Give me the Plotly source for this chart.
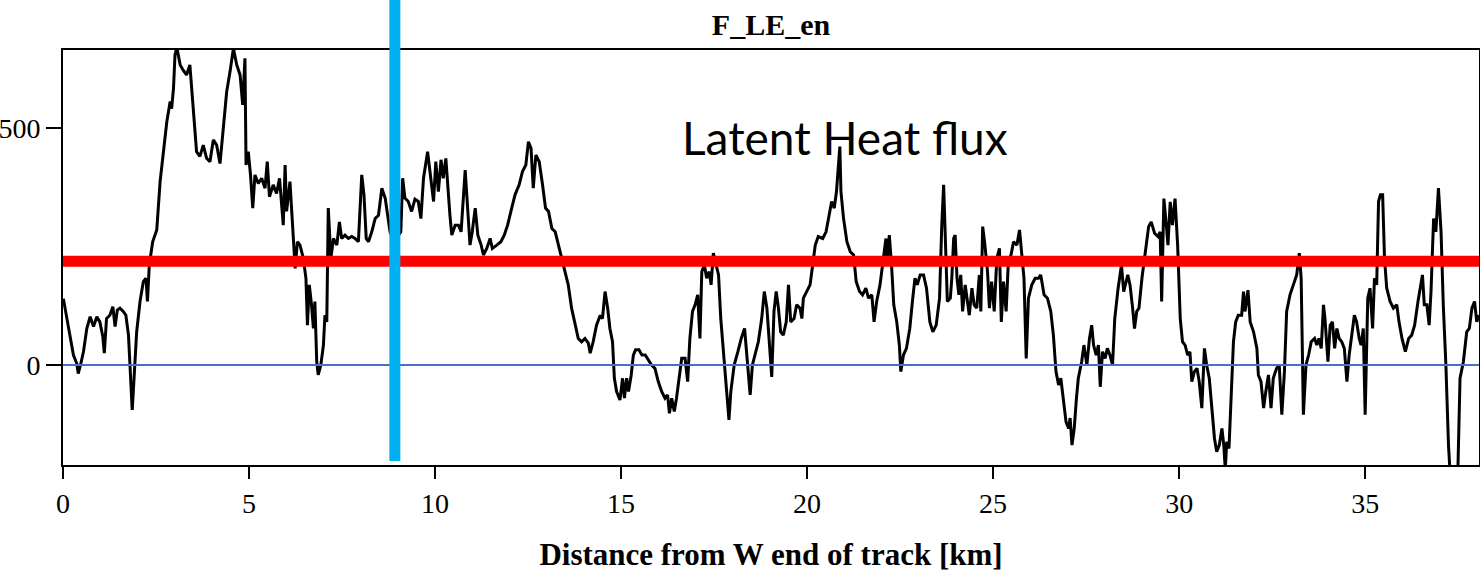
import plotly.graph_objects as go

# Distance along track [km]
distance_km = [
    0.01, 0.10, 0.19, 0.28, 0.37, 0.41, 0.47, 0.55, 0.64, 0.73, 0.82, 0.91, 0.99, 1.07, 1.11, 1.17,
    1.26, 1.34, 1.40, 1.46, 1.53, 1.62, 1.69, 1.76, 1.80, 1.86, 1.91, 1.98, 2.07, 2.16, 2.23, 2.27,
    2.32, 2.41, 2.52, 2.61, 2.70, 2.79, 2.88, 2.92, 2.97, 3.01, 3.06, 3.15, 3.23, 3.32, 3.41, 3.50,
    3.59, 3.68, 3.77, 3.86, 3.95, 4.04, 4.13, 4.22, 4.31, 4.40, 4.49, 4.58, 4.67, 4.76, 4.83, 4.89,
    4.92, 4.98, 5.04, 5.10, 5.16, 5.25, 5.34, 5.43, 5.49, 5.55, 5.65, 5.74, 5.82, 5.88, 5.92, 5.97,
    6.01, 6.10, 6.19, 6.24, 6.30, 6.37, 6.46, 6.53, 6.57, 6.62, 6.68, 6.73, 6.77, 6.82, 6.86, 6.93,
    7.00, 7.04, 7.09, 7.13, 7.20, 7.27, 7.36, 7.43, 7.49, 7.58, 7.67, 7.76, 7.85, 7.94, 8.03, 8.09,
    8.15, 8.21, 8.30, 8.39, 8.48, 8.57, 8.66, 8.75, 8.79, 8.90, 9.08, 9.13, 9.19, 9.28, 9.37,
    9.46, 9.55, 9.62, 9.69, 9.80, 9.87, 9.96, 10.02, 10.09, 10.16, 10.22, 10.29, 10.34, 10.40, 10.45,
    10.54, 10.63, 10.70, 10.81, 10.88, 10.94, 11.00, 11.08, 11.15, 11.24, 11.30, 11.39, 11.48, 11.54,
    11.66, 11.77, 11.86, 11.95, 12.06, 12.15, 12.26, 12.35, 12.44, 12.51, 12.58, 12.64, 12.71, 12.80,
    12.89, 12.97, 13.05, 13.14, 13.23, 13.32, 13.41, 13.49, 13.58, 13.67, 13.76, 13.85, 13.94, 14.03,
    14.12, 14.17, 14.25, 14.34, 14.44, 14.50, 14.57, 14.64, 14.70, 14.77, 14.82, 14.88, 14.97, 15.04,
    15.09, 15.15, 15.20, 15.27, 15.33, 15.39, 15.48, 15.56, 15.65, 15.73, 15.82, 15.91, 16.00, 16.09,
    16.18, 16.25, 16.30, 16.36, 16.43, 16.49, 16.56, 16.63, 16.72, 16.79, 16.85, 16.92, 16.99, 17.06,
    17.12, 17.17, 17.24, 17.30, 17.37, 17.42, 17.48, 17.55, 17.62, 17.68, 17.78, 17.84, 17.90, 17.95,
    18.04, 18.14, 18.23, 18.32, 18.38, 18.47, 18.53, 18.60, 18.69, 18.78, 18.85, 18.92, 18.98,
    19.05, 19.11, 19.17, 19.23, 19.29, 19.36, 19.44, 19.50, 19.56, 19.65, 19.72, 19.81, 19.86, 19.90,
    19.99, 20.08, 20.15, 20.22, 20.30, 20.42, 20.51, 20.60, 20.66, 20.73, 20.79, 20.83, 20.88, 20.91,
    20.98, 21.07, 21.16, 21.25, 21.32, 21.41, 21.49, 21.58, 21.65, 21.74, 21.80, 21.87, 21.96, 22.05,
    22.12, 22.15, 22.21, 22.27, 22.33, 22.41, 22.48, 22.52, 22.59, 22.67, 22.76, 22.84, 22.90, 22.96,
    23.04, 23.13, 23.21, 23.30, 23.38, 23.47, 23.56, 23.62, 23.67, 23.71, 23.77, 23.85, 23.89, 23.94,
    23.98, 24.03, 24.08, 24.13, 24.18, 24.25, 24.31, 24.36, 24.43, 24.49, 24.56, 24.63, 24.67, 24.72,
    24.78, 24.85, 24.90, 24.96, 25.03, 25.10, 25.17, 25.22, 25.28, 25.35, 25.41, 25.48, 25.55, 25.64,
    25.71, 25.77, 25.83, 25.89, 25.95, 26.04, 26.13, 26.22, 26.28, 26.37, 26.46, 26.55, 26.62, 26.69,
    26.76, 26.82, 26.89, 26.96, 27.03, 27.07, 27.12, 27.18, 27.24, 27.29, 27.38, 27.44, 27.52, 27.59,
    27.65, 27.70, 27.77, 27.83, 27.88, 27.94, 28.01, 28.07, 28.14, 28.21, 28.27, 28.36, 28.45, 28.51,
    28.62, 28.68, 28.75, 28.80, 28.86, 28.92, 29.00, 29.09, 29.18, 29.25, 29.34, 29.43, 29.49, 29.53,
    29.59, 29.64, 29.70, 29.76, 29.82, 29.89, 29.96, 30.03, 30.09, 30.16, 30.23, 30.29, 30.34, 30.41,
    30.48, 30.54, 30.61, 30.68, 30.74, 30.81, 30.88, 30.95, 31.01, 31.08, 31.15, 31.20, 31.24, 31.28,
    31.34, 31.42, 31.46, 31.52, 31.59, 31.68, 31.73, 31.77, 31.85, 31.91, 32.00, 32.09, 32.13, 32.20,
    32.27, 32.33, 32.40, 32.47, 32.53, 32.62, 32.69, 32.76, 32.83, 32.89, 32.98, 33.07, 33.16, 33.23,
    33.28, 33.34, 33.41, 33.48, 33.55, 33.64, 33.70, 33.76, 33.82, 33.88, 33.92, 34.00, 34.06, 34.12,
    34.18, 34.24, 34.30, 34.37, 34.44, 34.51, 34.57, 34.64, 34.71, 34.77, 34.84, 34.89, 34.95, 35.00,
    35.07, 35.13, 35.20, 35.25, 35.31, 35.36, 35.41, 35.47, 35.52, 35.58, 35.67, 35.76, 35.85, 35.91,
    35.99, 36.08, 36.17, 36.25, 36.33, 36.42, 36.48, 36.54, 36.59, 36.66, 36.72, 36.77, 36.84, 36.90,
    36.97, 37.04, 37.10, 37.17, 37.24, 37.28, 37.35, 37.42, 37.49, 37.55, 37.64, 37.73, 37.80, 37.87,
    37.94, 38.00, 38.06,
]

# Latent heat flux F_LE_en [W m-2]
latent_heat_flux = [
    140, 98, 63, 21, 3, -18, 0, 28, 77, 102, 81, 102, 91, 60, 25, 98,
    105, 123, 81, 116, 120, 113, 105, 63, 0, -95, -28, 70, 134, 176, 183, 134,
    211, 260, 285, 387, 450, 513, 556, 541, 584, 654, 670, 633, 622, 612, 633, 535,
    450, 440, 464, 436, 429, 475, 464, 425, 499, 577, 619, 668, 633, 612, 549, 647,
    422, 450, 401, 331, 401, 383, 394, 373, 429, 355, 380, 362, 394, 331, 295, 422,
    324, 387, 253, 204, 260, 253, 225, 183, 84, 169, 127, 77, 134, 7, -21, 0,
    42, 105, 91, 331, 225, 267, 253, 302, 267, 274, 267, 271, 267, 260, 401, 359,
    267, 260, 281, 309, 316, 373, 352, 309, 281, 260, 281, 394, 352, 345, 324,
    350, 345, 309, 394, 450, 408, 345, 429, 366, 433, 394, 436, 373, 316, 274,
    295, 295, 281, 411, 324, 253, 281, 331, 274, 253, 232, 246, 267, 246,
    253, 260, 274, 295, 331, 359, 380, 408, 422, 471, 457, 373, 443, 429,
    380, 331, 324, 288, 281, 253, 225, 197, 169, 120, 84, 56, 49, 56,
    46, 25, 49, 84, 105, 98, 155, 120, 77, 49, -28, -56, -74, -28,
    -70, -28, -56, -23, 21, 32, 32, 21, 21, 10, 0, -7, -35, -56,
    -70, -63, -102, -70, -98, -70, -28, 14, 14, -35, 56, 113, 127, 148,
    56, 197, 211, 183, 197, 169, 236, 211, 190, 98, 0, -70, -116, -56,
    0, 28, 56, 77, 14, -63, 0, 21, 49, 98, 155, 120, 60,
    -25, 113, 155, 120, 70, 63, 91, 169, 91, 98, 127, 120, 98, 141,
    155, 169, 211, 253, 271, 267, 281, 324, 345, 331, 366, 408, 461, 366,
    309, 260, 239, 232, 176, 155, 148, 162, 141, 148, 91, 134, 169, 225,
    267, 211, 274, 211, 127, 91, 42, -14, 21, 35, 77, 141, 183, 169,
    190, 190, 162, 91, 70, 84, 141, 295, 380, 281, 134, 141, 183, 267,
    274, 183, 148, 190, 113, 169, 127, 105, 162, 127, 120, 190, 113, 292,
    253, 197, 120, 176, 113, 225, 246, 91, 176, 113, 218, 232, 260, 253,
    285, 239, 183, 14, 141, 169, 183, 183, 190, 148, 141, 113, 63, -14,
    -42, -28, -70, -120, -134, -112, -169, -134, -70, -28, 7, 42, 0, 56,
    84, 42, 21, 42, -46, 28, 14, 35, 21, 0, 98, 162, 211, 155,
    190, 169, 120, 77, 113, 120, 183, 239, 292, 302, 278, 271, 281, 134,
    351, 309, 253, 344, 295, 351, 253, 98, 49, 42, 21, 28, -35, -14,
    -7, -35, -91, 35, 0, -28, -84, -155, -183, -169, -134, -169, -220, -162,
    -176, -28, 49, 91, 105, 105, 155, 113, 158, 91, 70, 35, -21, -35,
    -91, -56, -21, -91, -28, -7, 0, -105, -14, 113, 148, 169, 190, 236,
    183, -105, 0, 21, 49, 56, 42, 56, 35, 127, 98, 7, 84, 91,
    35, 77, 56, 49, 35, -35, 21, 63, 105, 91, 56, 42, 77, -105,
    141, 162, 77, 183, 169, 345, 359, 359, 225, 162, 134, 120, 127, 91,
    56, 28, 56, 63, 84, 134, 162, 190, 127, 127, 84, 155, 309, 281,
    373, 281, 127, 0, -169, -250, -320, -300, -230, -28, 7, 70, 77, 120,
    134, 91, 105,
]

x_ticks = [0, 5, 10, 15, 20, 25, 30, 35]
y_ticks = [0, 500]
x_range = [0, 38.06]
y_range = [-211, 664.6]

mean_flux = 219          # red horizontal reference line
zero_level = 0           # blue zero line
marker_km = 8.92         # cyan vertical marker
label_km = 16.59         # start of "Latent Heat flux" label
label_flux = 479

serif = "Liberation Serif"

fig = go.Figure()
fig.add_trace(go.Scatter(
    x=distance_km, y=latent_heat_flux, mode="lines",
    line=dict(color="black", width=3), showlegend=False, hoverinfo="skip",
))

# blue zero line
fig.add_shape(type="line", xref="paper", yref="y", x0=0, x1=1, y0=zero_level, y1=zero_level,
              line=dict(color="#4472C4", width=2), layer="above")
# red mean line
fig.add_shape(type="line", xref="paper", yref="y", x0=0, x1=1, y0=mean_flux, y1=mean_flux,
              line=dict(color="#FF0000", width=11), layer="above")
# cyan vertical marker (extends above the plot)
fig.add_shape(type="line", xref="x", yref="paper", x0=marker_km, x1=marker_km, y0=0.0096, y1=1.13,
              line=dict(color="#00B0F0", width=11), layer="above")

fig.add_annotation(x=label_km, y=label_flux, xref="x", yref="y", text="Latent Heat flux",
                   showarrow=False, xanchor="left", yanchor="middle",
                   font=dict(family="Lato", size=46, color="black"))

axis_common = dict(showgrid=False, zeroline=False, showline=True, linecolor="black",
                   linewidth=2, mirror=True, ticks="outside", tickcolor="black",
                   tickfont=dict(family=serif, size=28, color="black"))

fig.update_xaxes(range=x_range, tickvals=x_ticks, ticklen=12, tickwidth=1.5,
                 title=dict(text="Distance from W end of track [km]", standoff=28,
                            font=dict(family=serif, size=31, color="black", weight="bold")),
                 **axis_common)
fig.update_yaxes(range=y_range, tickvals=y_ticks, ticklen=15, tickwidth=1.5, **axis_common)

fig.update_layout(
    width=1480, height=572,
    margin=dict(l=63, r=1, t=50, b=107, autoexpand=False),
    plot_bgcolor="white", paper_bgcolor="white",
    title=dict(text="F_LE_en", x=0.5, xref="paper", y=1 - 24 / 572, yref="container",
               xanchor="center", yanchor="middle",
               font=dict(family=serif, size=30, color="black", weight="bold")),
)

fig.write_html(
    "out.html",
    config={"displayModeBar": False},
    post_script="document.body.style.margin='0';document.body.style.overflow='hidden';",
)
